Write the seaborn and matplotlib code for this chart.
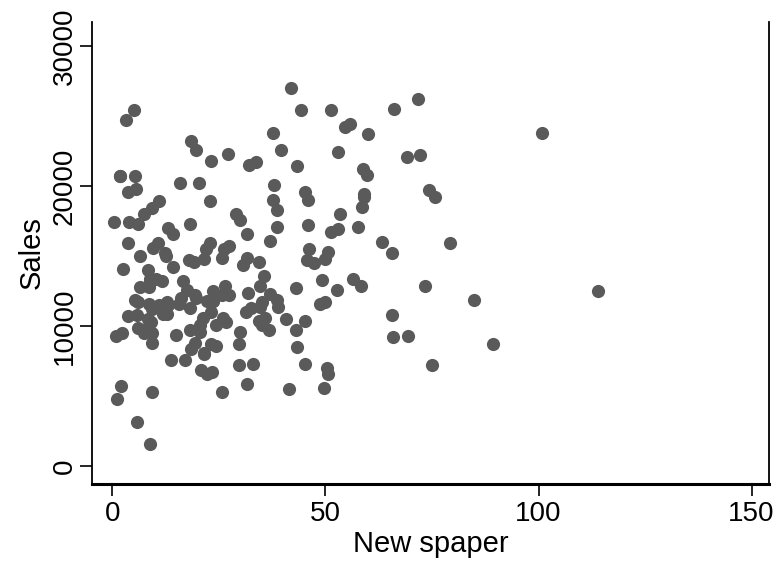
import matplotlib
matplotlib.use("Agg")
import matplotlib.pyplot as plt
import seaborn as sns
import pandas as pd

# newspaper spend and sales
newspaper = [
    69.2, 45.1, 69.3, 58.5, 58.4, 75.0, 23.5, 11.6, 1.0, 21.2,
    24.2, 4.0, 65.9, 7.2, 46.0, 52.9, 114.0, 55.8, 18.3, 19.1,
    53.4, 23.5, 49.6, 26.2, 18.3, 19.5, 12.6, 22.9, 22.9, 40.8,
    43.2, 38.6, 30.0, 0.3, 7.4, 8.5, 5.0, 45.7, 35.1, 32.0,
    31.6, 38.7, 1.8, 26.4, 43.3, 31.5, 35.7, 18.5, 49.9, 36.8,
    34.6, 3.6, 39.6, 58.7, 15.9, 60.0, 41.4, 16.6, 37.7, 9.3,
    21.4, 54.7, 27.3, 8.4, 28.9, 0.9, 2.2, 10.2, 11.0, 27.2,
    38.7, 31.7, 19.3, 31.3, 13.1, 89.4, 20.7, 14.2, 9.4, 23.1,
    22.3, 36.9, 32.5, 35.6, 33.8, 65.7, 16.0, 63.2, 73.4, 51.4,
    9.3, 33.0, 59.0, 72.3, 10.9, 52.9, 5.9, 22.0, 51.2, 45.9,
    49.8, 100.9, 21.4, 17.9, 5.3, 59.0, 29.7, 23.2, 25.6, 5.5,
    56.5, 23.2, 2.4, 10.7, 34.5, 52.7, 25.6, 14.8, 79.2, 22.3,
    46.2, 50.4, 15.6, 12.4, 74.2, 25.9, 50.6, 9.2, 3.2, 43.1,
    8.7, 43.0, 2.1, 45.1, 65.6, 8.5, 9.3, 59.7, 20.5, 1.7,
    12.9, 75.6, 37.9, 34.4, 38.9, 9.0, 8.7, 44.3, 11.9, 20.6,
    37.0, 48.7, 14.2, 37.7, 9.5, 5.7, 50.5, 24.3, 45.2, 34.6,
    30.7, 49.3, 25.6, 7.4, 5.4, 84.8, 21.6, 19.4, 57.6, 6.4,
    18.4, 47.4, 17.0, 12.8, 13.1, 41.8, 20.3, 35.2, 23.7, 17.6,
    8.3, 27.4, 29.7, 71.8, 30.0, 19.6, 26.6, 18.2, 3.7, 23.4,
    5.8, 6.0, 31.6, 3.6, 6.0, 13.8, 8.1, 6.4, 66.2, 8.7,
]
sales = [
    22100, 10400, 9300, 18500, 12900, 7200, 11800, 13200, 4800, 10600,
    8600, 17400, 9200, 9700, 19000, 22400, 12500, 24400, 11300, 14600,
    18000, 12500, 5600, 15500, 9700, 12000, 15000, 15900, 18900, 10500,
    21400, 11900, 9600, 17400, 9500, 12800, 25400, 14700, 10100, 21500,
    16600, 17100, 20700, 12900, 8500, 14900, 10600, 23200, 14800, 9700,
    11400, 10700, 22600, 21200, 20200, 23700, 5500, 13200, 23800, 18400,
    8100, 24200, 15700, 14000, 18000, 9300, 9500, 13400, 18900, 22300,
    18300, 12400, 8800, 11000, 17000, 8700, 6900, 14200, 5300, 11000,
    11800, 12300, 11300, 13600, 21700, 15200, 12000, 16000, 12900, 16700,
    11200, 7300, 19400, 22200, 11500, 16900, 11700, 15500, 25400, 17200,
    11700, 23800, 14800, 14700, 20700, 19200, 7200, 8700, 5300, 19800,
    13400, 21800, 14100, 15900, 14600, 12600, 12200, 9400, 15900, 6600,
    15500, 7000, 11600, 15200, 19700, 10600, 6600, 8800, 24700, 9700,
    1600, 12700, 5700, 19600, 10800, 11600, 9500, 20800, 9600, 20700,
    10900, 19200, 20100, 10400, 11400, 10300, 13200, 25400, 10900, 10100,
    16100, 11600, 16600, 19000, 15600, 3200, 15300, 10100, 7300, 12900,
    14400, 13300, 14900, 18000, 11900, 11900, 8000, 12200, 17100, 15000,
    8400, 14500, 7600, 11700, 11500, 27000, 20200, 11700, 11800, 12600,
    10500, 12200, 8700, 26200, 17600, 22600, 10300, 17300, 15900, 6700,
    10800, 9900, 5900, 19600, 17300, 7600, 9700, 12800, 25500, 13400,
]
x_ticks = [0, 50, 100, 150]
y_ticks = [0, 10000, 20000, 30000]

df = pd.DataFrame({"Newspaper": newspaper, "Sales": sales})

sns.set_style("white")
plt.rcParams["font.family"] = ["Liberation Sans", "DejaVu Sans"]
plt.rcParams["text.color"] = "black"
plt.rcParams["axes.labelcolor"] = "black"
plt.rcParams["xtick.color"] = "black"
plt.rcParams["ytick.color"] = "black"

fig = plt.figure(figsize=(7.77, 5.72), dpi=100)
ax = fig.add_axes([0.1184, 0.1538, 0.8713, 0.8077])

sns.scatterplot(data=df, x="Newspaper", y="Sales", ax=ax,
                color="#5a5a5a", s=90, linewidth=0, alpha=1, legend=False)

ax.set_xlim(-4.8, 154.1)
ax.set_ylim(-1260, 31700)
ax.set_xticks(x_ticks)
ax.set_yticks(y_ticks)
ax.set_xticklabels([str(t) for t in x_ticks], fontsize=20)
ax.set_yticklabels([str(t) for t in y_ticks], fontsize=20,
                   rotation=90, va="center")
ax.tick_params(axis="both", direction="out", length=8.5, width=1.2,
               color="black", left=True, bottom=True)
ax.tick_params(axis="y", pad=2)
ax.tick_params(axis="x", pad=4)
ax.set_xlabel("New spaper", fontsize=21, labelpad=2)
ax.set_ylabel("Sales", fontsize=21, labelpad=4)

for side in ["left", "bottom", "right", "top"]:
    ax.spines[side].set_color("black")
    ax.spines[side].set_linewidth(1.3)
ax.spines["top"].set_visible(False)
ax.spines["bottom"].set_linewidth(2.2)

fig.savefig("out.png", dpi=100, facecolor="white")
